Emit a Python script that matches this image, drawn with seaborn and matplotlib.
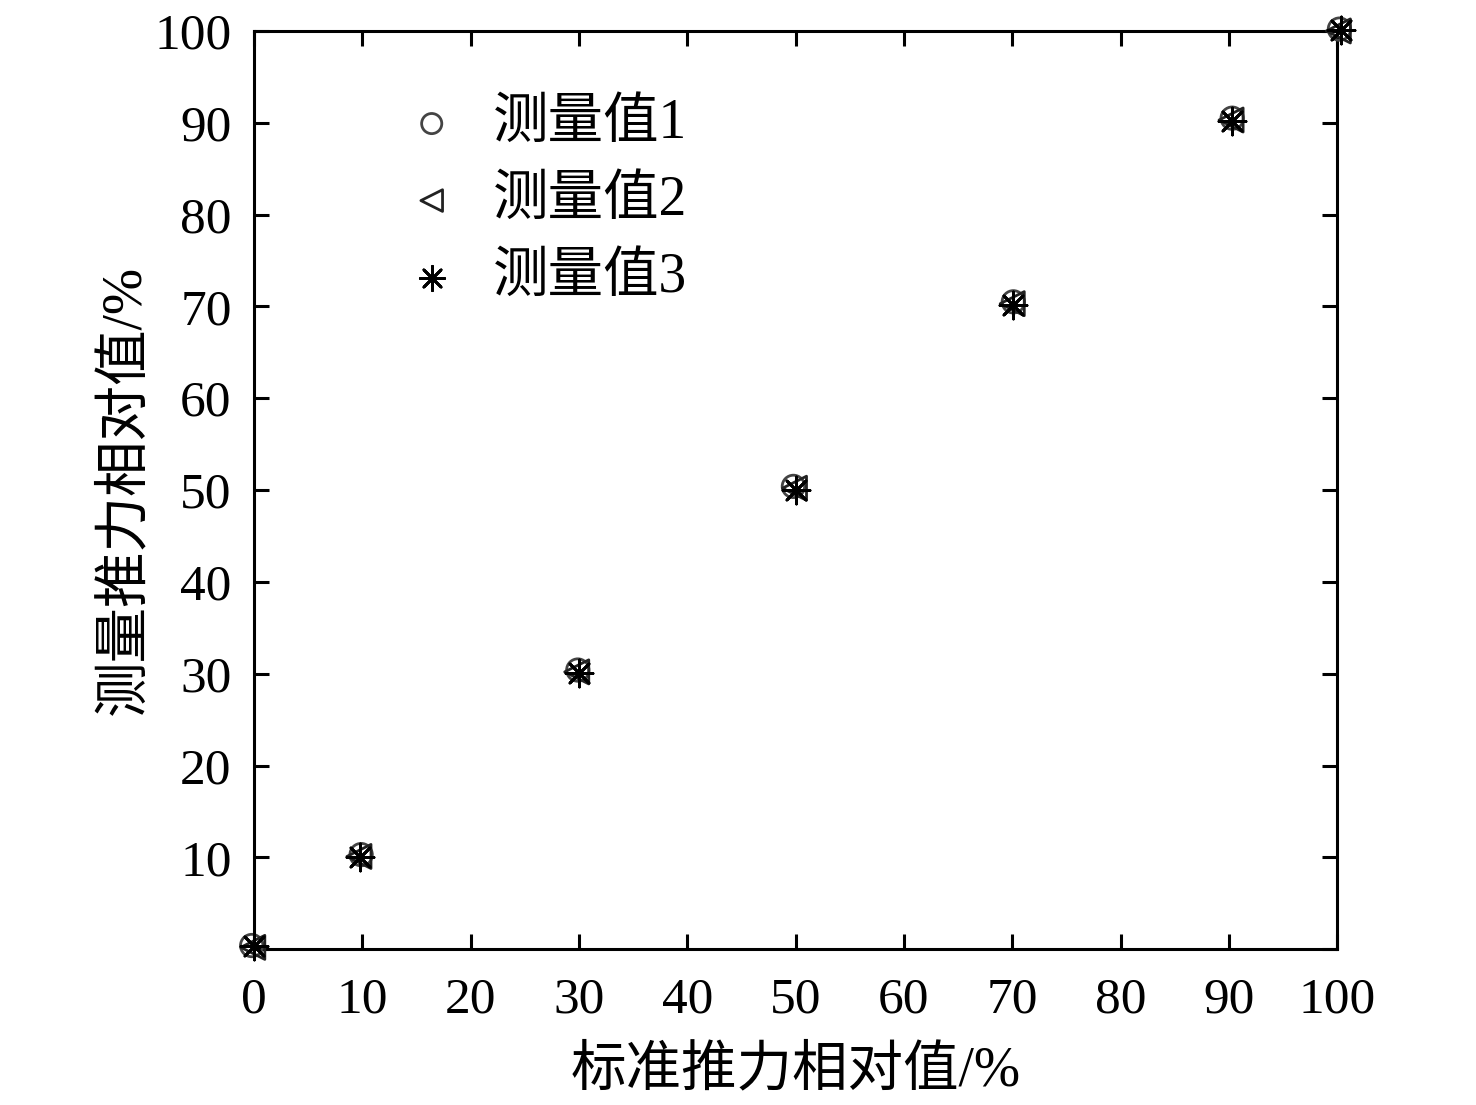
import numpy as np
import pandas as pd
import matplotlib
matplotlib.use("Agg")
import matplotlib.pyplot as plt
import seaborn as sns

# 数据
std_x = [0, 10, 30, 50, 70, 90, 100]
meas1 = [0.4, 10.3, 30.4, 50.4, 70.5, 90.5, 100.2]
meas2 = [0.2, 10.1, 30.2, 50.2, 70.3, 90.3, 100.0]
meas3 = [0.3, 10.0, 30.1, 50.0, 70.2, 90.2, 100.1]
x_off1 = [-0.2, -0.1, -0.1, -0.2, 0.1, 0.3, 0.2]
x_off2 = [-0.1, -0.3, -0.2, -0.1, 0.0, 0.2, 0.1]
x_off3 = [0.0, -0.2, 0.0, 0.0, 0.1, 0.3, 0.3]
labels = ["测量值1", "测量值2", "测量值3"]
xticks = [0, 10, 20, 30, 40, 50, 60, 70, 80, 90, 100]
yticks = [0, 10, 20, 30, 40, 50, 60, 70, 80, 90, 100]

sns.set_theme(style="ticks")
plt.rcParams['font.family'] = ['Liberation Serif', 'Noto Sans CJK SC']
plt.rcParams['axes.unicode_minus'] = False
plt.rcParams['text.color'] = 'black'
plt.rcParams['axes.labelcolor'] = 'black'

df = pd.DataFrame({
    "x": np.concatenate([np.add(std_x, x_off1), np.add(std_x, x_off2), np.add(std_x, x_off3)]),
    "y": meas1 + meas2 + meas3,
    "series": [labels[0]] * 7 + [labels[1]] * 7 + [labels[2]] * 7,
})

fig = plt.figure(figsize=(14.76, 11.05), dpi=100)
ax = fig.add_axes([0.172, 0.141, 0.734, 0.831])

d1 = df[df.series == labels[0]]
d2 = df[df.series == labels[1]]
d3 = df[df.series == labels[2]]
sns.scatterplot(data=d1, x="x", y="y", marker="o", s=260, facecolors="none",
                edgecolor="#444444", linewidth=2.0, label=labels[0], ax=ax, clip_on=False, zorder=3)
sns.scatterplot(data=d2, x="x", y="y", marker="<", s=300, facecolors="none",
                edgecolor="#222222", linewidth=2.0, label=labels[1], ax=ax, clip_on=False, zorder=3)
sns.scatterplot(data=d3, x="x", y="y", marker=(8, 2, 0), s=380, color="#000000",
                linewidth=2.0, label=labels[2], ax=ax, clip_on=False, zorder=4)

ax.set_xlim(0, 100)
ax.set_ylim(0, 100)
ax.set_xticks(xticks)
ax.set_yticks(yticks)
ax.set_xticklabels([str(t) for t in xticks])
ax.set_yticklabels([str(t) if t != 0 else "" for t in yticks])

for sp in ax.spines.values():
    sp.set_visible(True)
    sp.set_linewidth(2.2)
    sp.set_color("black")
ax.tick_params(axis="both", direction="in", length=11, width=2.2, top=True, right=True,
               labelsize=37, colors="black")
ax.tick_params(axis="x", pad=20)
ax.tick_params(axis="y", pad=16)

ax.set_xlabel("标准推力相对值/%", fontsize=40, labelpad=16)
ax.set_ylabel("测量推力相对值/%", fontsize=40, labelpad=2)

leg = ax.legend(loc="upper left", bbox_to_anchor=(0.118, 0.951), frameon=False,
                fontsize=40, handlelength=1.0, handletextpad=0.6, labelspacing=0.45,
                borderaxespad=0, markerscale=0.9)

fig.savefig("out.png", dpi=100)
